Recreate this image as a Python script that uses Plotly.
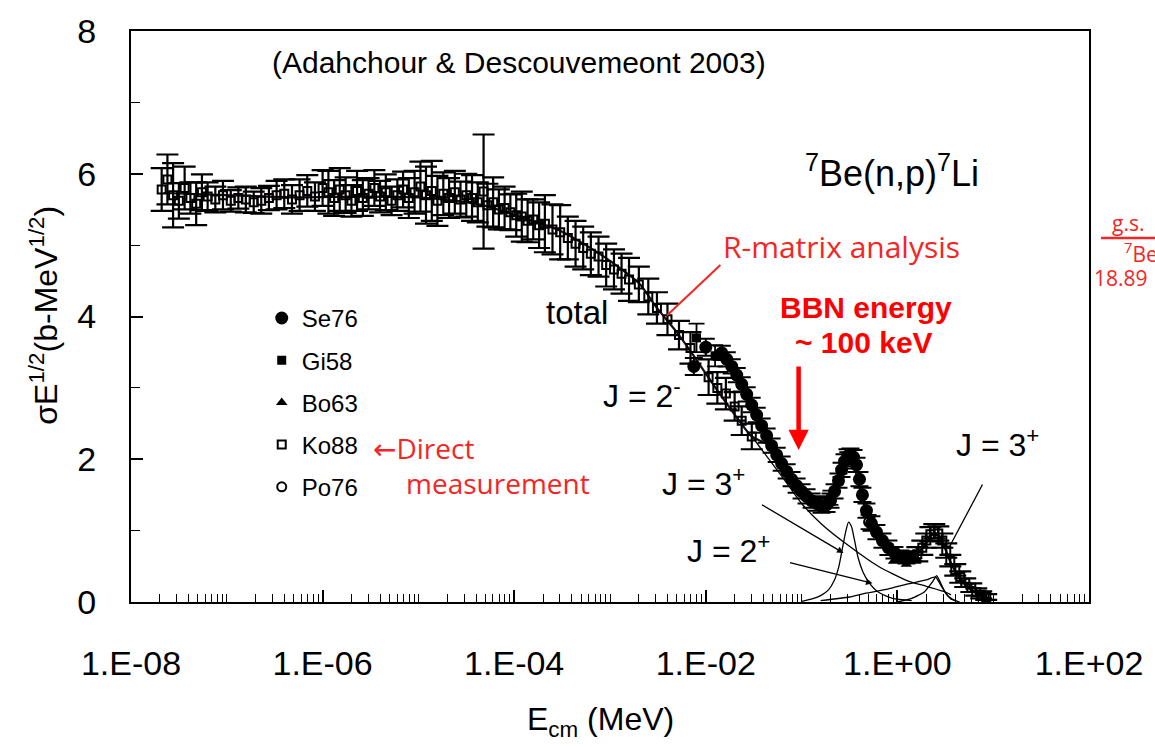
import plotly.graph_objects as go

# ---------------- data ----------------
# Ko88 (open squares, with error bars)
ko88_e = [2.09e-8, 2.40e-8, 2.75e-8, 3.16e-8, 3.63e-8, 4.17e-8, 4.79e-8, 5.50e-8, 6.31e-8, 7.59e-8,
          9.12e-8, 1.10e-7, 1.32e-7, 1.58e-7, 1.91e-7, 2.29e-7, 2.75e-7, 3.31e-7, 3.98e-7, 4.79e-7,
          5.75e-7, 6.92e-7, 8.32e-7, 1.00e-6, 1.15e-6, 1.32e-6, 1.51e-6, 1.74e-6, 2.00e-6, 2.29e-6,
          2.63e-6, 3.02e-6, 3.47e-6, 3.98e-6, 4.57e-6, 5.25e-6, 6.03e-6, 6.92e-6, 7.94e-6, 9.12e-6,
          1.05e-5, 1.20e-5, 1.38e-5, 1.58e-5, 1.82e-5, 2.09e-5, 2.40e-5, 2.75e-5, 3.16e-5, 3.63e-5,
          4.17e-5, 4.79e-5, 5.25e-5, 6.03e-5, 6.92e-5, 7.94e-5, 9.12e-5, 1.05e-4, 1.20e-4, 1.38e-4,
          1.58e-4, 1.82e-4, 2.09e-4, 2.51e-4, 3.02e-4, 3.63e-4, 4.37e-4, 5.25e-4, 6.31e-4, 7.59e-4,
          9.12e-4, 1.10e-3, 1.32e-3, 1.58e-3, 2.00e-3, 2.51e-3, 3.09e-3, 3.98e-3, 5.25e-3, 6.92e-3,
          1.07e-2, 1.32e-2, 1.62e-2, 2.00e-2, 2.37e-2, 3.02e-2,
          1.614, 1.820, 2.004, 2.208, 2.427, 2.673, 2.944, 3.236, 3.565, 4.018,
          4.529, 5.105, 5.902, 6.653, 7.499, 8.453]
ko88_y = [5.78, 5.92, 5.70, 5.62, 5.80, 5.66, 5.58, 5.74, 5.68, 5.64,
          5.70, 5.62, 5.66, 5.64, 5.60, 5.62, 5.66, 5.70, 5.72, 5.64,
          5.70, 5.76, 5.68, 5.80, 5.74, 5.66, 5.78, 5.70, 5.62, 5.76,
          5.66, 5.72, 5.80, 5.68, 5.74, 5.62, 5.70, 5.78, 5.66, 5.74,
          5.82, 5.70, 5.76, 5.62, 5.72, 5.66, 5.74, 5.64, 5.70, 5.66,
          5.60, 5.75, 5.56, 5.60, 5.50, 5.52, 5.46, 5.42, 5.40, 5.34,
          5.36, 5.28, 5.30, 5.22, 5.18, 5.10, 5.02, 4.96, 4.88, 4.84,
          4.72, 4.66, 4.60, 4.52, 4.45, 4.28, 4.12, 3.96, 3.74, 3.56,
          3.15, 3.00, 2.92, 2.74, 2.54, 2.32,
          0.67, 0.76, 0.86, 0.95, 0.99, 0.96, 0.86, 0.72, 0.58, 0.45,
          0.35, 0.27, 0.20, 0.14, 0.10, 0.07]
ko88_err = [0.30, 0.35, 0.45, 0.25, 0.30, 0.22, 0.30, 0.25, 0.20, 0.18,
            0.20, 0.15, 0.15, 0.18, 0.15, 0.18, 0.17, 0.20, 0.20, 0.20,
            0.22, 0.22, 0.20, 0.25, 0.30, 0.25, 0.30, 0.25, 0.22, 0.28,
            0.25, 0.22, 0.25, 0.22, 0.25, 0.20, 0.22, 0.25, 0.28, 0.30,
            0.35, 0.40, 0.42, 0.35, 0.30, 0.28, 0.30, 0.25, 0.30, 0.32,
            0.28, 0.80, 0.30, 0.35, 0.28, 0.30, 0.25, 0.30, 0.35, 0.30,
            0.28, 0.32, 0.40, 0.35, 0.38, 0.30, 0.32, 0.30, 0.30, 0.28,
            0.30, 0.28, 0.28, 0.30, 0.25, 0.25, 0.22, 0.22, 0.20, 0.22,
            0.25, 0.22, 0.22, 0.20, 0.20, 0.18,
            0.10, 0.10, 0.10, 0.10, 0.10, 0.10, 0.10, 0.10, 0.08, 0.08,
            0.08, 0.06, 0.06, 0.05, 0.05, 0.04]

# Se76 (filled circles)
se76_e = [0.0075, 0.0100,
          0.01469, 0.01656, 0.01866, 0.02104, 0.02371, 0.02673, 0.03013, 0.03396, 0.03828, 0.04315,
          0.04864, 0.05495, 0.06194, 0.06982, 0.07870, 0.08872, 0.1000, 0.1127, 0.1271, 0.1432,
          0.1614, 0.1820, 0.2004, 0.2208, 0.2427, 0.2612, 0.2805, 0.3013, 0.3236, 0.3483,
          0.3741, 0.4018, 0.4315, 0.4753, 0.5358, 0.6039, 0.6982, 0.8054, 0.9311, 1.074,
          1.242, 1.432]
se76_y = [3.30, 3.57,
          3.49, 3.40, 3.30, 3.18, 3.05, 2.91, 2.76, 2.62, 2.47, 2.33,
          2.19, 2.06, 1.94, 1.83, 1.72, 1.63, 1.55, 1.48, 1.42, 1.38,
          1.35, 1.36, 1.42, 1.55, 1.70, 1.85, 1.97, 2.04, 2.05, 2.03,
          1.92, 1.72, 1.50, 1.28, 1.10, 0.98, 0.86, 0.76, 0.69, 0.64,
          0.62, 0.63]
se76_err = [0.12, 0.12,
            0.10, 0.10, 0.10, 0.10, 0.10, 0.10, 0.10, 0.10, 0.10, 0.10,
            0.10, 0.10, 0.10, 0.10, 0.10, 0.10, 0.10, 0.10, 0.10, 0.10,
            0.10, 0.10, 0.10, 0.10, 0.10, 0.10, 0.10, 0.10, 0.10, 0.10,
            0.10, 0.10, 0.10, 0.10, 0.10, 0.10, 0.10, 0.10, 0.08, 0.08,
            0.08, 0.08]

# Gi58 (filled squares)
gi58_e = [0.0080, 0.0125]
gi58_y = [3.70, 3.45]
gi58_err = [0.20, 0.15]

# Bo63 (filled triangles)
bo63_e = [0.91, 1.24, 1.60]
bo63_y = [0.57, 0.53, 0.60]

# Po76 (open circles)
po76_e = [0.20, 0.30, 0.50]
po76_y = [1.46, 2.00, 1.12]
po76_err = [0.10, 0.10, 0.10]

# R-matrix curves
total_e = [2.19e-8, 1e-7, 5.01e-7, 2.51e-6, 1e-5, 2.51e-5, 5.01e-5, 1.12e-4, 2.95e-4, 7.76e-4,
           2.00e-3, 3.09e-3, 5.25e-3, 7.94e-3, 1.15e-2, 1.78e-2, 3.02e-2, 5.01e-2, 7.94e-2, 0.112,
           0.148, 0.182, 0.219, 0.263, 0.302, 0.339, 0.380, 0.427, 0.501, 0.631,
           0.794, 1.0, 1.26, 1.58, 1.91, 2.29, 2.63, 3.02, 3.55, 4.47, 5.62, 7.08, 8.91]
total_y = [5.73, 5.70, 5.67, 5.68, 5.67, 5.62, 5.55, 5.40, 5.21, 4.88,
           4.47, 4.12, 3.74, 3.40, 3.08, 2.72, 2.32, 2.17, 1.70, 1.47,
           1.36, 1.36, 1.52, 1.84, 1.99, 1.96, 1.74, 1.46, 1.16, 0.92,
           0.75, 0.66, 0.61, 0.65, 0.79, 0.94, 0.95, 0.81, 0.57, 0.33, 0.19, 0.10, 0.06]

j2m_e = [3.02e-2, 6.31e-2, 0.1, 0.162, 0.316, 0.631, 1.26, 2.0, 3.16, 3.63]
j2m_y = [2.32, 1.75, 1.38, 1.09, 0.78, 0.50, 0.30, 0.22, 0.14, 0.10]

j3p_a_e = [0.1, 0.126, 0.158, 0.191, 0.219, 0.245, 0.269, 0.288, 0.309, 0.331, 0.355, 0.389,
           0.437, 0.501, 0.631, 0.891, 1.41]
j3p_a_y = [0.01, 0.04, 0.09, 0.17, 0.30, 0.50, 0.78, 0.98, 1.12, 1.06, 0.88, 0.62,
           0.42, 0.28, 0.14, 0.05, 0.02]

j3p_b_e = [1.0, 1.41, 1.91, 2.29, 2.57, 2.82, 3.16, 3.63, 4.47]
j3p_b_y = [0.0, 0.05, 0.14, 0.27, 0.37, 0.27, 0.13, 0.04, 0.0]

j2p_e = [0.158, 0.316, 0.457, 0.794, 1.26, 2.0, 2.51, 2.88, 3.39, 3.98]
j2p_y = [0.02, 0.07, 0.12, 0.18, 0.25, 0.31, 0.35, 0.22, 0.08, 0.02]

# axes ticks
x_tick_vals = [1e-8, 1e-6, 1e-4, 1e-2, 1e0, 1e2]
x_tick_text = ["1.E-08", "1.E-06", "1.E-04", "1.E-02", "1.E+00", "1.E+02"]
y_tick_vals = [0, 2, 4, 6, 8]
y_tick_text = ["0", "2", "4", "6", "8"]

# ---------------- figure ----------------
ARIAL = "Liberation Sans, Arial, Helvetica, sans-serif"
OPEN = "Open Sans, Noto Sans, sans-serif"
RED = "#FF0000"
LRED = "#F52525"

fig = go.Figure()

def curve(xs, ys, width=1.3, smooth=0.6, color="black"):
    fig.add_trace(go.Scatter(x=xs, y=ys, mode="lines",
                             line=dict(color=color, width=width, shape="spline", smoothing=smooth),
                             showlegend=False, hoverinfo="skip"))

curve(j2m_e, j2m_y)
curve(j3p_a_e, j3p_a_y)
curve(j3p_b_e, j3p_b_y, smooth=0.4)
curve(j2p_e, j2p_y, smooth=0.5)
curve(total_e, total_y, width=2.2, color="#1a0a1a")

def eb(arr, w, th=1.8):
    return dict(type="data", array=arr, visible=True, color="black", thickness=th, width=w)

fig.add_trace(go.Scatter(x=se76_e, y=se76_y, mode="markers", name="Se76", legendgroup="a",
                         marker=dict(symbol="circle", size=13, color="black"),
                         error_y=eb(se76_err, 9, 2)))
fig.add_trace(go.Scatter(x=gi58_e, y=gi58_y, mode="markers", name="Gi58", legendgroup="b",
                         marker=dict(symbol="square", size=9, color="black"),
                         error_y=eb(gi58_err, 8)))
fig.add_trace(go.Scatter(x=bo63_e, y=bo63_y, mode="markers", name="Bo63", legendgroup="c",
                         marker=dict(symbol="triangle-up", size=10, color="black")))
fig.add_trace(go.Scatter(x=ko88_e, y=ko88_y, mode="markers", name="Ko88", legendgroup="d",
                         marker=dict(symbol="square-open", size=8, color="black", line=dict(width=2, color="black")),
                         error_y=eb(ko88_err, 11, 2.2)))
fig.add_trace(go.Scatter(x=po76_e, y=po76_y, mode="markers", name="Po76", legendgroup="e",
                         marker=dict(symbol="circle-open", size=9, color="black", line=dict(width=2, color="black")),
                         error_y=eb(po76_err, 8)))

# ---------------- layout helpers (pixel -> paper) ----------------
L, R, T, B = 131, 1091, 20, 602
def px(x):
    return (x - L) / (R - L)
def py(y):
    return (B - y) / (B - T)

ann = []
def txt(x, y, s, size, color="black", xanchor="center", family=ARIAL, angle=0):
    ann.append(dict(x=px(x), y=py(y), xref="paper", yref="paper", text=s, showarrow=False,
                    xanchor=xanchor, yanchor="middle", textangle=angle,
                    font=dict(size=size, color=color, family=family)))

def arrow(x_tip, y_tip, x_tail, y_tail, color="black", width=1.3, head=2, hsize=1.0):
    ann.append(dict(x=px(x_tip), y=py(y_tip), xref="paper", yref="paper", text="",
                    showarrow=True, ax=x_tail - x_tip, ay=y_tail - y_tip,
                    arrowhead=head, arrowsize=hsize, arrowwidth=width, arrowcolor=color))

txt(520, 52, "(Adahchour &amp; Descouvemeont 2003)", 30)
txt(894, 163, "<sup>7</sup>Be(n,p)<sup>7</sup>Li", 36)
txt(578, 307, "total", 33)
txt(602, 390, "J = 2<sup>-</sup>", 32, xanchor="left")
txt(661, 480, "J = 3<sup>+</sup>", 32, xanchor="left")
txt(686, 548, "J = 2<sup>+</sup>", 32, xanchor="left")
txt(956, 440, "J = 3<sup>+</sup>", 32, xanchor="left")
txt(843, 240, "R-matrix analysis", 30, color=LRED, family=OPEN)
txt(868, 302, "<b>BBN energy</b>", 30, color=RED)
txt(866, 338, "<b>~ 100 keV</b>", 30, color=RED)
txt(372, 445, "<span style=\"font-family:'DejaVu Sans'\">\u2190</span>Direct", 28, color=LRED,
    xanchor="left", family=OPEN)
txt(405, 481, "measurement", 28, color=LRED, xanchor="left", family=OPEN)
# cut-off text at right edge
txt(1112, 216, "g.s.", 21, color=LRED, xanchor="left", family=OPEN)
txt(1124, 246, "<sup>7</sup>Be", 21, color=LRED, xanchor="left", family=OPEN)
txt(1094, 272, "18.89", 21, color=LRED, xanchor="left", family=OPEN)
# axis titles
txt(601, 724, "E<sub>cm</sub> (MeV)", 32)
txt(43, 310, "\u03c3E<sup>1/2</sup>(b-MeV<sup>1/2</sup>)", 32, angle=-90)

arrow(668, 310, 723, 258, color=LRED, width=2, head=0)
arrow(800, 447, 800, 362, color=RED, width=4.5, head=2, hsize=0.9)
arrow(845, 552, 762, 503)
arrow(874, 583, 790, 562)
arrow(950, 548, 985, 482, head=0)

minor_x = []
for dec in range(-8, 2):
    for m in range(1, 10):
        if m == 1 and dec % 2 == 0:
            continue
        minor_x.append(m * 10.0 ** dec)

fig.update_layout(
    width=1155, height=747,
    margin=dict(l=L, r=1155 - R, t=T, b=747 - B),
    paper_bgcolor="white", plot_bgcolor="white",
    annotations=ann,
    shapes=[dict(type="line", xref="paper", yref="paper", x0=px(1103), x1=px(1170),
                 y0=py(231), y1=py(231), line=dict(color=LRED, width=2.5))],
    showlegend=True,
    legend=dict(x=px(262), y=py(290), xanchor="left", yanchor="top",
                font=dict(size=24, family=ARIAL, color="black"),
                bgcolor="rgba(0,0,0,0)", borderwidth=0, tracegroupgap=8,
                itemsizing="trace"),
    font=dict(family=ARIAL, color="black"),
)
fig.update_xaxes(type="log", range=[-8, 2], tickmode="array", tickvals=x_tick_vals, ticktext=x_tick_text,
                 ticks="inside", ticklen=12, tickwidth=1.5, tickcolor="black",
                 showline=True, linecolor="black", linewidth=2, mirror=True,
                 showgrid=False, zeroline=False, ticklabelstandoff=30,
                 tickfont=dict(size=34, family=ARIAL, color="black"),
                 minor=dict(tickmode="array", tickvals=minor_x, ticks="inside", ticklen=8,
                            tickwidth=1.2, tickcolor="black", showgrid=False))
fig.update_yaxes(range=[0, 8], tickmode="array", tickvals=y_tick_vals, ticktext=y_tick_text,
                 ticks="inside", ticklen=12, tickwidth=1.5, tickcolor="black",
                 showline=True, linecolor="black", linewidth=2, mirror=True,
                 showgrid=False, zeroline=False, ticklabelstandoff=26,
                 tickfont=dict(size=34, family=ARIAL, color="black"),
                 minor=dict(dtick=1, ticks="inside", ticklen=9, tickwidth=1.2,
                            tickcolor="black", showgrid=False))

fig.write_html("out.html")
